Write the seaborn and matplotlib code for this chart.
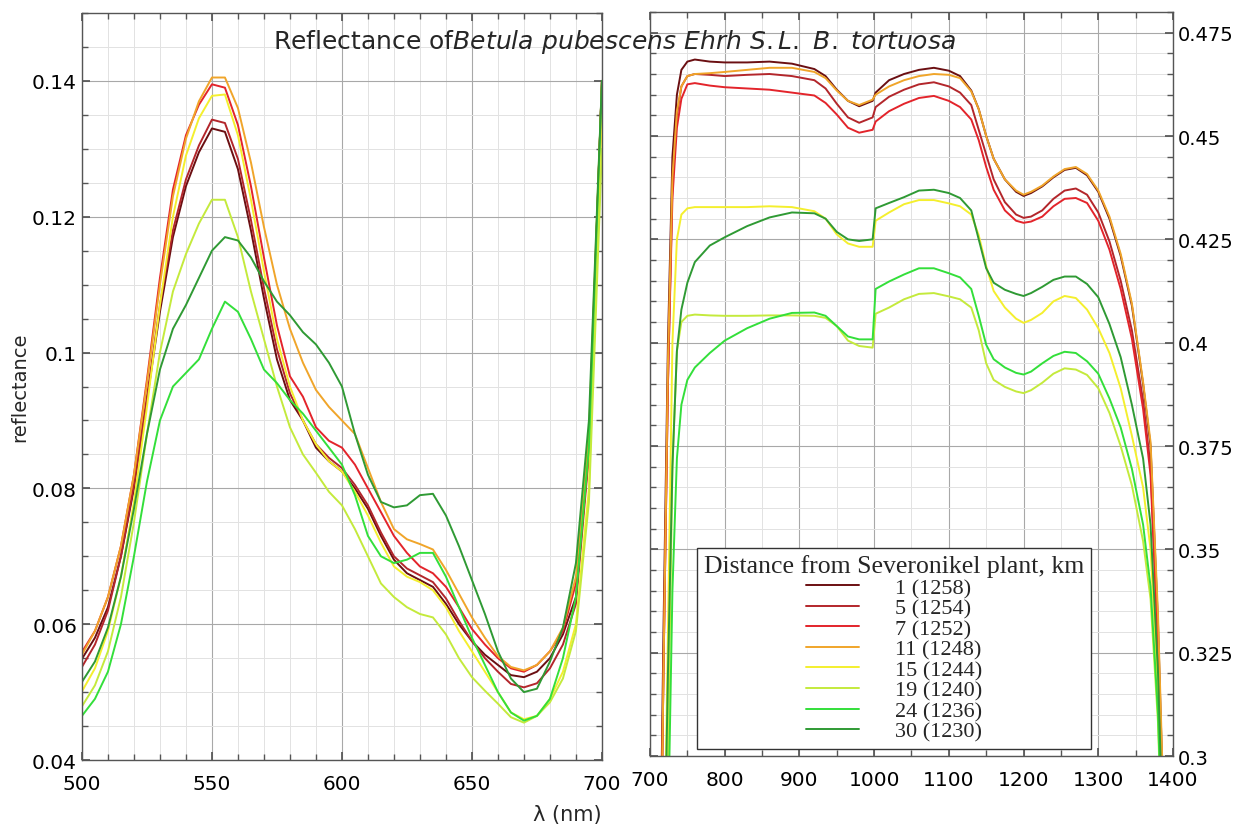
import numpy as np
import pandas as pd
import seaborn as sns
import matplotlib.pyplot as plt
from matplotlib.ticker import MultipleLocator, FormatStrFormatter

# series labels (distance from plant, km (site id)) and colours
labels = ['1 (1258)', '5 (1254)', '7 (1252)', '11 (1248)',
          '15 (1244)', '19 (1240)', '24 (1236)', '30 (1230)']
colors = ['#6b0f12', '#b3262b', '#e3242b', '#f0a52a',
          '#f4ef2e', '#c4ea3c', '#33df3a', '#2f9a34']

# visible range, 500-700 nm
vis_wl = list(range(500, 705, 5))
vis_km1 = [.0549, .0580, .0625, .0700, .0800, .0930, .1060, .1170, .1245, .1295, .1330,
           .1325, .1270, .1180, .1080, .0990, .0930, .0900, .0860, .0840, .0825,
           .0800, .0770, .0730, .0695, .0675, .0665, .0655, .0630, .0600, .0575,
           .0555, .0540, .0525, .0522, .0530, .0550, .0585, .0640, .0860, .1400]
vis_km5 = [.0537, .0570, .0620, .0700, .0805, .0935, .1070, .1180, .1255, .1305, .1343,
           .1338, .1285, .1195, .1095, .1005, .0940, .0900, .0865, .0845, .0830,
           .0805, .0775, .0735, .0700, .0682, .0672, .0662, .0638, .0605, .0575,
           .0550, .0530, .0512, .0507, .0513, .0535, .0570, .0630, .0850, .1400]
vis_km7 = [.0559, .0590, .0640, .0715, .0820, .0960, .1110, .1240, .1320, .1365, .1395,
           .1390, .1335, .1245, .1140, .1040, .0965, .0935, .0890, .0870, .0860,
           .0835, .0800, .0765, .0730, .0705, .0685, .0675, .0655, .0625, .0593,
           .0570, .0550, .0535, .0530, .0540, .0560, .0590, .0660, .0850, .1400]
vis_km11 = [.0555, .0590, .0640, .0715, .0820, .0955, .1100, .1230, .1315, .1370, .1405,
            .1405, .1360, .1280, .1185, .1100, .1035, .0985, .0945, .0920, .0900,
            .0880, .0830, .0780, .0740, .0725, .0718, .0710, .0680, .0645, .0610,
            .0580, .0553, .0537, .0532, .0540, .0560, .0595, .0670, .0880, .1400]
vis_km15 = [.0501, .0535, .0590, .0670, .0780, .0920, .1070, .1200, .1290, .1345, .1378,
            .1380, .1320, .1225, .1120, .1020, .0950, .0900, .0865, .0840, .0825,
            .0795, .0760, .0720, .0685, .0670, .0662, .0650, .0625, .0590, .0560,
            .0530, .0500, .0470, .0460, .0465, .0490, .0530, .0600, .0800, .1350]
vis_km19 = [.0479, .0510, .0560, .0640, .0750, .0880, .1000, .1090, .1145, .1190, .1225,
            .1225, .1170, .1090, .1020, .0950, .0890, .0850, .0823, .0795, .0775,
            .0740, .0700, .0660, .0640, .0625, .0615, .0610, .0585, .0550, .0522,
            .0502, .0483, .0463, .0455, .0465, .0485, .0520, .0590, .0780, .1300]
vis_km24 = [.0465, .0490, .0530, .0600, .0700, .0810, .0900, .0950, .0970, .0990, .1035,
            .1075, .1060, .1020, .0975, .0955, .0930, .0910, .0885, .0860, .0835,
            .0790, .0730, .0700, .0690, .0695, .0705, .0705, .0670, .0625, .0580,
            .0540, .0500, .0470, .0458, .0465, .0490, .0550, .0640, .0860, .1400]
vis_km30 = [.0515, .0545, .0595, .0670, .0770, .0880, .0975, .1035, .1070, .1110, .1150,
            .1170, .1165, .1140, .1105, .1075, .1055, .1030, .1012, .0985, .0950,
            .0880, .0820, .0780, .0772, .0775, .0790, .0792, .0760, .0715, .0665,
            .0615, .0560, .0520, .0500, .0505, .0545, .0595, .0690, .0900, .1400]

# near infrared, 700-1400 nm
nir_wl = [700, 710, 718, 724, 730, 736, 742, 750, 760, 780, 800, 830, 860, 890, 920,
          935, 950, 965, 980, 998, 1002, 1020, 1040, 1060, 1080, 1100, 1115, 1130,
          1140, 1150, 1160, 1175, 1190, 1200, 1210, 1225, 1240, 1255, 1270, 1285,
          1300, 1315, 1330, 1345, 1360, 1370, 1380, 1390, 1400]
nir_km1 = [.14, .22, .33, .40, .445, .460, .466, .468, .4685, .468, .4678, .4678, .468,
           .4675, .4662, .4645, .4612, .4585, .4572, .4585, .4605, .4635, .4650, .4660,
           .4665, .4658, .4645, .4610, .4565, .4500, .4445, .4395, .4365, .4355, .4362,
           .4378, .4400, .4418, .4423, .4405, .4365, .4300, .4210, .4090, .3900, .3750,
           .3320, .2700, .2000]
nir_km5 = [.14, .21, .32, .39, .438, .455, .462, .4645, .4650, .4648, .4645, .4648, .4650,
           .4645, .4635, .4615, .4578, .4545, .4532, .4545, .4570, .4595, .4612, .4625,
           .4630, .4620, .4605, .4575, .4515, .4455, .4395, .4340, .4310, .4302, .4305,
           .4320, .4348, .4368, .4373, .4358, .4315, .4245, .4150, .4030, .3860, .3700,
           .3280, .2650, .2000]
nir_km7 = [.14, .21, .32, .39, .435, .452, .459, .4625, .4628, .4622, .4618, .4615, .4612,
           .4605, .4598, .4580, .4552, .4520, .4508, .4515, .4535, .4560, .4578, .4592,
           .4597, .4585, .4570, .4540, .4490, .4425, .4370, .4320, .4295, .4290, .4293,
           .4305, .4330, .4348, .4350, .4338, .4295, .4225, .4130, .4010, .3840, .3680,
           .3260, .2620, .2000]
nir_km11 = [.14, .21, .32, .395, .44, .456, .462, .4645, .4650, .4652, .4655, .4660, .4665,
            .4665, .4655, .4640, .4610, .4585, .4575, .4588, .4600, .4620, .4635, .4645,
            .4650, .4648, .4640, .4608, .4565, .4500, .4445, .4395, .4368, .4358, .4365,
            .4380, .4402, .4420, .4425, .4408, .4368, .4305, .4215, .4095, .3905, .3760,
            .3340, .2720, .2000]
nir_km15 = [.14, .19, .26, .33, .40, .425, .431, .4325, .4328, .4328, .4328, .4328, .4330,
            .4328, .4318, .4300, .4262, .4240, .4232, .4232, .4295, .4315, .4335, .4345,
            .4345, .4337, .4330, .4310, .4260, .4185, .4125, .4085, .4058, .4048, .4055,
            .4072, .4100, .4113, .4108, .4080, .4035, .3975, .3890, .3775, .3650, .3500,
            .3150, .2550, .2000]
nir_km19 = [.14, .18, .24, .30, .37, .398, .405, .4065, .4068, .4066, .4065, .4065, .4066,
            .4066, .4065, .4060, .4040, .4005, .3992, .3988, .4070, .4085, .4105, .4118,
            .4120, .4112, .4105, .4085, .4030, .3950, .3910, .3893, .3882, .3878, .3885,
            .3903, .3925, .3938, .3935, .3922, .3890, .3830, .3750, .3655, .3520, .3380,
            .3080, .2500, .2000]
nir_km24 = [.14, .18, .23, .28, .34, .372, .385, .391, .394, .3975, .4005, .4035, .4058,
            .4072, .4073, .4065, .4040, .4015, .4008, .4008, .4130, .4148, .4165, .4180,
            .4180, .4168, .4158, .4130, .4065, .3995, .3960, .3940, .3927, .3923, .3930,
            .3950, .3968, .3978, .3975, .3955, .3925, .3865, .3795, .3695, .3560, .3410,
            .3100, .2520, .2000]
nir_km30 = [.14, .19, .26, .32, .37, .398, .408, .4145, .4195, .4235, .4255, .4282, .4303,
            .4315, .4313, .4300, .4268, .4250, .4246, .4250, .4325, .4338, .4352, .4368,
            .4370, .4362, .4350, .4320, .4250, .4180, .4145, .4128, .4118, .4113, .4120,
            .4135, .4152, .4160, .4160, .4142, .4110, .4045, .3965, .3850, .3720, .3560,
            .3200, .2600, .2000]

vis_all = [vis_km1, vis_km5, vis_km7, vis_km11, vis_km15, vis_km19, vis_km24, vis_km30]
nir_all = [nir_km1, nir_km5, nir_km7, nir_km11, nir_km15, nir_km19, nir_km24, nir_km30]


def long_form(wl, series):
    frames = [pd.DataFrame({'wl': wl, 'refl': s, 'site': lab})
              for s, lab in zip(series, labels)]
    return pd.concat(frames, ignore_index=True)


visData = long_form(vis_wl, vis_all)
nirData = long_form(nir_wl, nir_all)
palette = dict(zip(labels, colors))

sns.set_theme(style='ticks')
plt.rcParams['font.family'] = ['DejaVu Sans']
plt.rcParams['mathtext.fontset'] = 'dejavusans'

fig = plt.figure(figsize=(12.36, 8.28), dpi=100)
ax1 = fig.add_axes([0.0663, 0.0809, 0.4207, 0.9022])
ax2 = fig.add_axes([0.5259, 0.0857, 0.4231, 0.8986])

sns.lineplot(data=visData, x='wl', y='refl', hue='site', hue_order=labels,
             palette=palette, linewidth=1.4, legend=False, ax=ax1)
sns.lineplot(data=nirData, x='wl', y='refl', hue='site', hue_order=labels,
             palette=palette, linewidth=1.4, ax=ax2)

ax1.set_xlim(500, 700)
ax1.set_ylim(0.04, 0.15)
ax1.xaxis.set_major_locator(MultipleLocator(50))
ax1.xaxis.set_minor_locator(MultipleLocator(10))
ax1.yaxis.set_major_locator(MultipleLocator(0.02))
ax1.yaxis.set_minor_locator(MultipleLocator(0.005))

ax2.set_xlim(700, 1400)
ax2.set_ylim(0.3, 0.48)
ax2.xaxis.set_major_locator(MultipleLocator(100))
ax2.xaxis.set_minor_locator(MultipleLocator(50))
ax2.yaxis.set_major_locator(MultipleLocator(0.025))
ax2.yaxis.set_minor_locator(MultipleLocator(0.005))

for ax in (ax1, ax2):
    ax.yaxis.set_major_formatter(FormatStrFormatter('%g'))
    ax.set_xlabel('')
    ax.set_ylabel('')
    ax.grid(which='major', color='#a8a8a8', linewidth=0.8)
    ax.grid(which='minor', color='#e2e2e2', linewidth=0.7)
    ax.set_axisbelow(True)
    for sp in ax.spines.values():
        sp.set_color('#555555')
        sp.set_linewidth(1.0)
    ax.tick_params(which='both', direction='in', top=True, bottom=True,
                   left=True, right=True, color='#555555', labelsize=14.5,
                   labelcolor='black')
    ax.tick_params(which='major', length=6)
    ax.tick_params(which='minor', length=4)
    ax.tick_params(axis='x', which='major', pad=10)

ax2.tick_params(labelleft=False, labelright=True)
ax2.tick_params(axis='y', labelsize=14)

ax1.set_ylabel('reflectance', fontsize=14, labelpad=2)
fig.text(567 / 1236, 1 - 815 / 828, 'λ (nm)', fontsize=15, ha='center', va='center')

fig.text(273 / 1236, 1 - 42 / 828,
         r'Reflectance of$\it{Betula\ pubescens\ Ehrh\ S.L.\ B.\ tortuosa}$',
         fontsize=18, ha='left', va='center')

# legend
handles, labs = ax2.get_legend_handles_labels()
leg = ax2.legend(handles, labs, title='Distance from Severonikel plant, km',
                 loc='lower left', bbox_to_anchor=(0.09, 0.01), borderaxespad=0,
                 prop={'family': 'Liberation Serif', 'size': 16},
                 title_fontproperties={'family': 'Liberation Serif', 'size': 18.5},
                 frameon=True, fancybox=False, framealpha=1, edgecolor='#333333',
                 handlelength=2.4, handletextpad=1.6, labelspacing=0.0,
                 borderpad=0.3)
leg.get_frame().set_linewidth(1.0)
for line in leg.get_lines():
    line.set_linewidth(1.4)

fig.savefig('out.png', dpi=100)
